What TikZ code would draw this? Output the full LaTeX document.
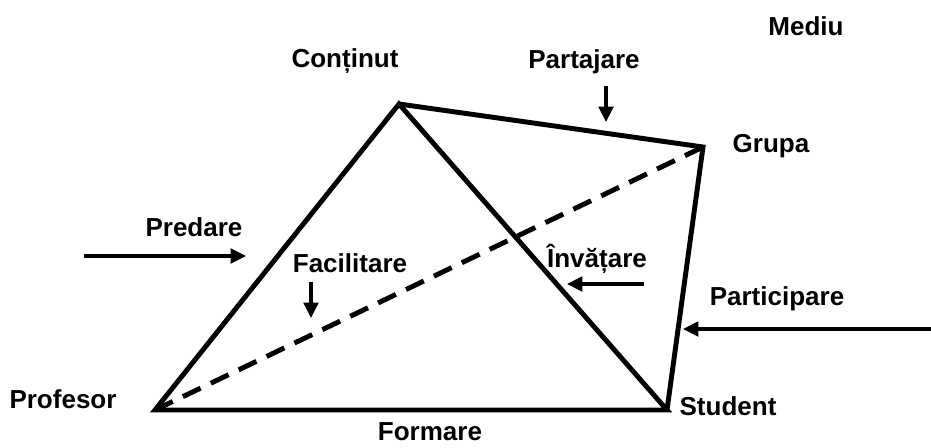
\documentclass[tikz,border=0pt]{standalone}
\usepackage{fontspec}
\setmainfont{Liberation Sans}
\usetikzlibrary{arrows.meta}
\begin{document}
\begin{tikzpicture}[x=0.025cm,y=-0.025cm,
  edge/.style={line width=3.5pt,line join=miter},
  dashedge/.style={line width=3.5pt,dash pattern=on 14pt off 8pt},
  flow/.style={line width=2.3pt,-{Triangle[length=11pt,width=10.5pt]}},
  lbl/.style={font=\fontsize{18.5pt}{20pt}\selectfont\bfseries,inner sep=0pt}]
  \useasboundingbox (0,0) rectangle (931,447);

  % vertices of the tetrahedron
  \coordinate (C) at (399,104);
  \coordinate (G) at (703,147);
  \coordinate (P) at (155,410);
  \coordinate (S) at (667,410);

  % edges
  \draw[dashedge] (P) -- (G);
  \draw[edge] (P) -- (C) -- (S) -- cycle;
  \draw[edge] (C) -- (G) -- (S);

  % labels
  \node[lbl] (mediu) at (806,26) {Mediu};
  \node[lbl] (cont) at (345,61) {Conținut};
  \node[lbl] (part) at (584,62) {Partajare};
  \node[lbl] (grupa) at (771,146) {Grupa};
  \node[lbl] (pred) at (194,227) {Predare};
  \node[lbl] (fac) at (350,263) {Facilitare};
  \node[lbl] (inv) at (597,259) {Învățare};
  \node[lbl] (partic) at (777,299) {Participare};
  \node[lbl] (prof) at (63,399) {Profesor};
  \node[lbl] (stud) at (728,406) {Student};
  \node[lbl] (form) at (430,432) {Formare};

  % arrow end points
  \coordinate (a1s) at (606,86);  \coordinate (a1e) at (606,122);
  \coordinate (a2s) at (84,256);  \coordinate (a2e) at (246,256);
  \coordinate (a3s) at (311,282); \coordinate (a3e) at (311,318);
  \coordinate (a4s) at (644,284); \coordinate (a4e) at (567,284);
  \coordinate (a5s) at (931,329); \coordinate (a5e) at (683,329);

  \draw[flow] (a1s) -- (a1e);
  \draw[flow] (a2s) -- (a2e);
  \draw[flow] (a3s) -- (a3e);
  \draw[flow] (a4s) -- (a4e);
  \draw[flow] (a5s) -- (a5e);
\end{tikzpicture}
\end{document}
